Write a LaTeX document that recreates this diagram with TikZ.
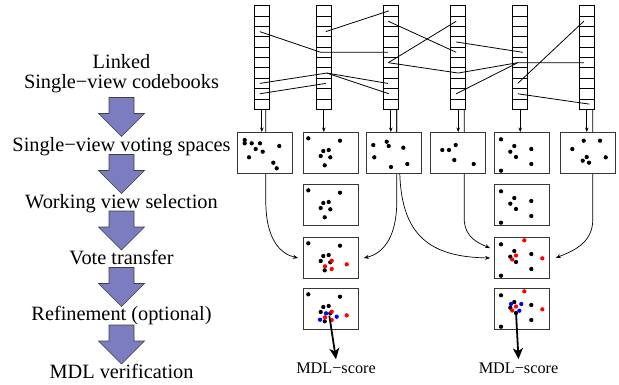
\documentclass[tikz,border=0pt]{standalone}
\usepackage{fontspec}
\setmainfont{Liberation Serif}
\usetikzlibrary{arrows.meta,backgrounds}

\definecolor{flowblue}{RGB}{124,124,192}
\definecolor{framegray}{RGB}{55,55,55}

\tikzset{
  cell/.style={draw, line width=0.8, minimum width=15, minimum height=10.36, inner sep=0},
  vspace/.style={draw=framegray, line width=1.1, fill=white, minimum width=55, minimum height=41, inner sep=0, anchor=north west},
  link/.style={line width=0.8},
  feed/.style={-{Stealth[length=4.5,width=3.5]}, line width=0.7},
  transfer/.style={-{Stealth[length=5,width=4]}, line width=0.7},
  score/.style={-{Stealth[length=11,width=10,inset=3]}, line width=1.8},
  stage/.style={font=\fontsize{20.4}{24}\selectfont, anchor=base, inner sep=0},
  flow/.style={draw=black!75, line width=0.6, fill=flowblue, line join=miter},
  scorelabel/.style={font=\fontsize{16.3}{20}\selectfont, anchor=base, inner sep=0}
}

% one set of votes, coordinates relative to the box corner
\newcommand{\votes}[2]{\foreach \p in {#2} {\fill[#1] \p circle (2.15pt);}}
% fat arrow pointing down, centred on a coordinate
\newcommand{\flowarrow}[1]{%
  \draw[flow] (#1) ++(-12.5,-19.5) -- ++(25,0) -- ++(0,16) -- ++(10.5,0)
    -- ++(-23,23) -- ++(-23,-23) -- ++(10.5,0) -- cycle;}

\begin{document}
\begin{tikzpicture}[x=1bp, y=-1bp]
  \useasboundingbox (0,0) rectangle (619,384);

  % stages of the pipeline
  \node[stage] (linked) at (121.5,68) {Linked};
  \node[stage] (codebooks) at (121.5,88) {Single−view codebooks};
  \node[stage] (voting) at (121.5,151) {Single−view voting spaces};
  \node[stage] (working) at (121.5,208) {Working view selection};
  \node[stage] (transfer) at (121.5,264) {Vote transfer};
  \node[stage] (refine) at (121.5,320) {Refinement (optional)};
  \node[stage] (mdl) at (121.5,378) {MDL verification};

  \coordinate (f1) at (121.5,117);
  \coordinate (f2) at (121.5,174);
  \coordinate (f3) at (121.5,230.5);
  \coordinate (f4) at (121.5,287);
  \coordinate (f5) at (121.5,344.5);
  \foreach \f in {f1,f2,f3,f4,f5} {
    \flowarrow{\f}
  }

  % codebooks, ten cells each
  \foreach \i/\x in {1/261.8,2/323.8,3/390.8,4/458.2,5/520.2,6/586.8} {
    \foreach \k in {0,...,9} {
      \node[cell] (cb\i-\k) at (\x,{10.88+10.36*\k}) {};
    }
  }

  % links between codebook entries
  \draw[link] ([xshift=-2]cb1-2.center) -- ([xshift=-3]cb2-4.center) -- ([xshift=-3]cb3-4.center);
  \draw[link] ([xshift=2]cb2-2.center) -- ([xshift=-2]cb3-0.center);
  \draw[link] ([xshift=-2.5]cb3-1.center) -- ([xshift=-2]cb4-4.center);
  \draw[link] ([xshift=-2.5]cb3-5.center) -- ([xshift=-2]cb4-1.center);
  \draw[link] ([xshift=-2.5]cb3-5.center) -- ([xshift=0]cb4-6.center) -- ([xshift=-2.5]cb5-5.center) -- ([xshift=-3]cb6-5.center);
  \draw[link] ([xshift=-2]cb4-3.center) -- ([xshift=2.5]cb5-4.center);
  \draw[link] ([xshift=-2]cb4-8.center) -- ([xshift=-2.5]cb5-5.center);
  \draw[link] ([xshift=-2.5]cb5-7.center) -- ([xshift=-3]cb6-1.center);
  \draw[link] ([xshift=-2.5]cb5-8.center) -- ([xshift=2.5]cb6-9.center);
  \draw[link] ([xshift=-2]cb1-7.center) -- ([xshift=3]cb2-6.center) -- ([xshift=-3]cb3-7.center);
  \draw[link] ([xshift=3]cb2-6.center) -- ([xshift=-2]cb3-8.center);
  \draw[link] ([xshift=-2]cb1-8.center) -- ([xshift=2]cb2-7.center);

  % voting spaces
  \node[vspace] (vs1) at (237,132) {};
  \node[vspace] (vs2) at (303,132) {};
  \node[vspace] (vs3) at (366,132) {};
  \node[vspace] (vs4) at (430,132) {};
  \node[vspace] (vs5) at (494,132) {};
  \node[vspace] (vs6) at (560,132) {};
  \node[vspace] (ws2) at (303,184) {};
  \node[vspace] (ws5) at (494,184) {};
  \node[vspace] (vt2) at (303,237) {};
  \node[vspace] (vt5) at (494,237) {};
  \node[vspace] (rf2) at (303,288) {};
  \node[vspace] (rf5) at (494,288) {};

  \foreach \i in {1,...,6} {
    \draw[feed] (cb\i-9.south) -- (cb\i-9.south |- vs\i.north);
  }

  % votes of the other views go to the working views
  \begin{scope}[on background layer]
    \draw[transfer] ([xshift=4]cb1-9.south) -- ++(0,91) .. controls +(0,40) and +(-17,-4) .. ([xshift=-5]vt2.west);
    \draw[transfer] ([xshift=6]cb3-9.south) -- ++(0,91) .. controls +(0,40) and +(17,-4) .. ([xshift=5]vt2.east);
    \draw[transfer] ([xshift=6]cb3-9.south) -- ++(0,50) -- ++(3,14) .. controls +(2,62) and +(-60,-1) .. ([xshift=-4]vt5.west);
    \draw[transfer] ([xshift=6]cb4-9.south) -- ++(0,110) .. controls +(1,18) and +(-12,-5) .. ([xshift=-4,yshift=10]vt5.west);
    \draw[transfer] ([xshift=6]cb6-9.south) -- ++(0,110) .. controls +(0,25) and +(14,-6) .. ([xshift=6]vt5.east);
  \end{scope}

  % single-view votes
  \begin{scope}[shift={(vs1.north west)}]
    \votes{black}{(7.7,8),(7.7,11.3),(14.7,11.3),(18.7,17),(23,11.3),(25.7,19.7),(12,25.3),(42.3,14),(36.3,30.7),(39.7,36.3)}
  \end{scope}
  \foreach \b in {vs2,ws2,vt2,rf2} {
    \begin{scope}[shift={(\b.north west)}]
      \votes{black}{(5.3,6.3),(37,8.7),(20.3,19),(25.7,18),(17.7,24),(27.3,25.3),(21.7,33.3)}
    \end{scope}
  }
  \begin{scope}[shift={(vs3.north west)}]
    \votes{black}{(7.3,13),(20.7,9.7),(22.7,14),(37.3,15.7),(8.3,25.3),(25,35),(41.3,32)}
  \end{scope}
  \begin{scope}[shift={(vs4.north west)}]
    \votes{black}{(12.3,18),(19,18),(25.7,13),(24.3,28),(43.7,32)}
  \end{scope}
  \foreach \b in {vs5,ws5,vt5,rf5} {
    \begin{scope}[shift={(\b.north west)}]
      \votes{black}{(7,7.3),(20.3,14),(16.3,19.7),(22,25),(37.3,17),(37.3,32),(7,38.7)}
    \end{scope}
  }
  \begin{scope}[shift={(vs6.north west)}]
    \votes{black}{(23.7,8.7),(40,8.7),(12.3,17),(26.7,25),(22.7,28.7),(29,30.7),(45.7,25.3)}
  \end{scope}

  % transferred and refined votes
  \foreach \b in {vt2,rf2} {
    \begin{scope}[shift={(\b.north west)}]
      \votes{red}{(28.7,23.7),(22,29.3),(28.7,32),(43.7,27.3)}
    \end{scope}
  }
  \foreach \b in {vt5,rf5} {
    \begin{scope}[shift={(\b.north west)}]
      \votes{red}{(30.3,3.3),(22,18.5),(18.2,22.5),(48.3,21.3)}
    \end{scope}
  }
  \begin{scope}[shift={(rf2.north west)}]
    \votes{blue}{(23,25.3),(17,31.7),(33.7,28.7)}
  \end{scope}
  \begin{scope}[shift={(rf5.north west)}]
    \votes{blue}{(17,16),(27.3,16),(25.3,22.7)}
  \end{scope}

  % verification
  \coordinate (peak2) at (329.3,315.7);
  \coordinate (peak5) at (516,312.3);
  \node[scorelabel] (score2) at (336,373) {MDL−score};
  \node[scorelabel] (score5) at (518.5,373) {MDL−score};
  \draw[score] (peak2) -- ([yshift=3]score2.north);
  \draw[score] (peak5) -- ([yshift=3]score5.north);
\end{tikzpicture}
\end{document}
